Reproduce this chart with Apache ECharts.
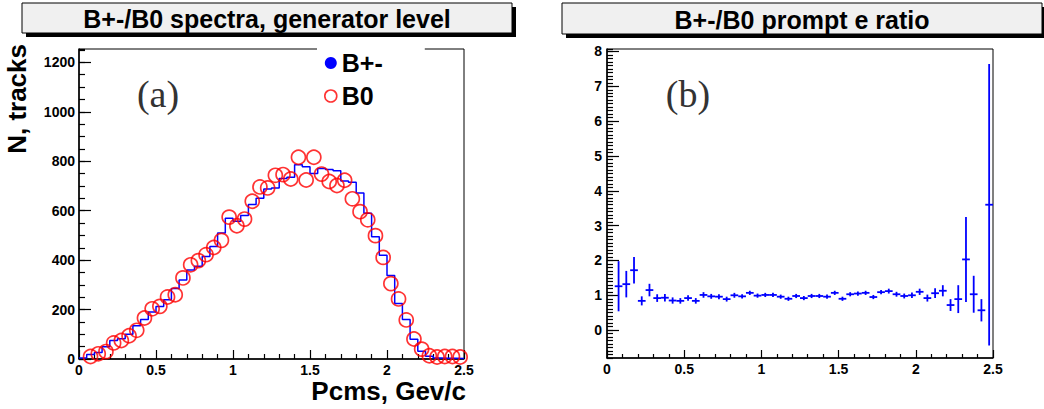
<!DOCTYPE html>
<html>
<head>
<meta charset="utf-8">
<script src="https://cdn.jsdelivr.net/npm/echarts@6/dist/echarts.min.js"></script>
<style>
  html, body { margin: 0; padding: 0; background: #fff; }
  #chart { width: 1044px; height: 409px; }
</style>
</head>
<body>
<div id="chart"></div>
<script>
// bin low edges (Pcms, GeV/c), 50 bins of 0.05
const binEdges = [0, 0.05, 0.1, 0.15, 0.2, 0.25, 0.3, 0.35, 0.4, 0.45,
  0.5, 0.55, 0.6, 0.65, 0.7, 0.75, 0.8, 0.85, 0.9, 0.95,
  1.0, 1.05, 1.1, 1.15, 1.2, 1.25, 1.3, 1.35, 1.4, 1.45,
  1.5, 1.55, 1.6, 1.65, 1.7, 1.75, 1.8, 1.85, 1.9, 1.95,
  2.0, 2.05, 2.1, 2.15, 2.2, 2.25, 2.3, 2.35, 2.4, 2.45, 2.5];
const binHalfWidth = 0.025;

// B+- spectrum (blue histogram), one value per bin
const bPlusMinus = [4, 18, 26, 50, 75, 82, 100, 135, 160, 190,
  212, 240, 285, 320, 360, 375, 415, 455, 510, 569,
  557, 580, 625, 650, 688, 692, 730, 735, 786, 778,
  750, 771, 767, 762, 720, 715, 672, 590, 495, 420,
  338, 225, 160, 80, 31, 11, 4, 3, 3, 2];

// B0 spectrum (red open circles), bins 1..49 (bin 0 empty)
const bZero = [null, 10, 21, 30, 65, 75, 94, 116, 166, 203,
  213, 251, 260, 328, 381, 398, 422, 451, 480, 574,
  539, 566, 638, 696, 692, 743, 746, 728, 816, 724,
  816, 748, 718, 702, 723, 648, 596, 563, 499, 411,
  305, 243, 158, 81, 40, 13, 8, 10, 10, 8];

// B+-/B0 ratio and its error, bins 1..49
const ratio = [null, 1.26, 1.32, 1.72, 0.84, 1.15, 0.92, 0.93, 0.85, 0.84,
  0.92, 0.84, 1.01, 0.97, 0.96, 0.89, 1.00, 0.97, 1.07, 0.99,
  1.01, 1.01, 0.96, 0.90, 0.98, 0.92, 0.98, 0.98, 0.96, 1.07,
  0.90, 1.03, 1.05, 1.07, 0.95, 1.09, 1.12, 1.03, 0.98, 1.00,
  1.10, 0.92, 1.06, 1.13, 0.72, 0.89, 2.03, 1.03, 0.57, 3.60];
const ratioErr = [null, 0.72, 0.38, 0.38, 0.13, 0.18, 0.11, 0.11, 0.09, 0.08,
  0.08, 0.08, 0.08, 0.07, 0.07, 0.07, 0.07, 0.06, 0.06, 0.06,
  0.06, 0.06, 0.06, 0.06, 0.06, 0.06, 0.06, 0.06, 0.06, 0.06,
  0.06, 0.06, 0.06, 0.06, 0.06, 0.06, 0.07, 0.07, 0.07, 0.08,
  0.09, 0.10, 0.14, 0.16, 0.17, 0.40, 1.22, 0.53, 0.32, 4.04];

// major tick labels of the ratio axis
const ratioMajorTicks = [0, 1, 2, 3, 4, 5, 6, 7, 8];

const FONT = '"Liberation Sans", Arial, Helvetica, sans-serif';
const BLUE = '#0000ff';
const RED = '#ff0000';

// step outline: each bin's value from its low edge, closed at the last edge
let stepData = bPlusMinus.map((v, i) => [binEdges[i], v]);
stepData.push([binEdges[binEdges.length - 1], bPlusMinus[bPlusMinus.length - 1]]);

let b0Data = [];
let ratioData = [];
for (let i = 0; i < bZero.length; i++) {
  let xc = binEdges[i] + binHalfWidth;
  if (bZero[i] !== null) b0Data.push([xc, bZero[i]]);
  if (ratio[i] !== null) ratioData.push([xc, ratio[i], ratioErr[i]]);
}

let chart = echarts.init(document.getElementById('chart'), null, {renderer: 'svg'});

const tickLabel = {
  color: '#000',
  fontWeight: 'bold',
  fontSize: 14,
  lineHeight: 14,
  fontFamily: FONT
};
const tickLine = {color: '#000', width: 1.2};

function xAxisFor(gridIndex, majorLen, minorLen) {
  return {
    gridIndex: gridIndex,
    type: 'value',
    min: 0,
    max: 2.5,
    interval: 0.5,
    axisLine: {show: true, onZero: false, lineStyle: {color: '#000', width: 1.5}},
    axisTick: {show: true, inside: true, length: majorLen, lineStyle: tickLine},
    minorTick: {show: true, splitNumber: 5, length: minorLen, lineStyle: tickLine},
    axisLabel: Object.assign({margin: 4, formatter: v => String(v)}, tickLabel),
    splitLine: {show: false}
  };
}

// extra left axis that only draws the short ticks
function minorAxis(gridIndex, min, max, step, len) {
  return {
    gridIndex: gridIndex,
    type: 'value',
    position: 'left',
    offset: 0,
    min: min,
    max: max,
    interval: step,
    axisLine: {show: false},
    axisTick: {show: true, inside: true, length: len, lineStyle: tickLine},
    axisLabel: {show: false},
    splitLine: {show: false}
  };
}

function errorBars(params, api) {
  let x = api.value(0), y = api.value(1), e = api.value(2);
  let c = api.coord([x, y]);
  let top = api.coord([x, y + e]);
  let bot = api.coord([x, y - e]);
  let l = api.coord([x - binHalfWidth, y]);
  let r = api.coord([x + binHalfWidth, y]);
  let style = {stroke: BLUE, lineWidth: 1.8};
  return {
    type: 'group',
    children: [
      {type: 'line', shape: {x1: c[0], y1: top[1], x2: c[0], y2: bot[1]}, style: style},
      {type: 'line', shape: {x1: l[0], y1: c[1], x2: r[0], y2: c[1]}, style: style}
    ]
  };
}

function titleBox(x, y, w, h, text) {
  return [
    {type: 'rect', shape: {x: x + 4, y: y + 4, width: w, height: h}, style: {fill: '#000'}, z: 10},
    {type: 'rect', shape: {x: x, y: y, width: w, height: h}, style: {fill: '#f0f0f0', stroke: '#000', lineWidth: 1}, z: 11},
    {type: 'text', x: x + w / 2, y: y + h / 2 + 1, z: 12,
      style: {text: text, fill: '#000', font: 'bold 25px ' + FONT, align: 'center', verticalAlign: 'middle'}}
  ];
}

let option = {
  animation: false,
  backgroundColor: '#fff',
  grid: [
    {left: 79, right: 580, top: 49, bottom: 50, show: true, borderColor: '#000', borderWidth: 1, backgroundColor: 'transparent'},
    {left: 607, right: 51, top: 49, bottom: 51, show: true, borderColor: '#000', borderWidth: 1, backgroundColor: 'transparent'}
  ],
  xAxis: [
    xAxisFor(0, 9, 5),
    xAxisFor(1, 8, 4)
  ],
  yAxis: [
    {
      gridIndex: 0,
      type: 'value',
      min: 0,
      max: 1254,
      interval: 200,
      axisLine: {show: true, lineStyle: {color: '#000', width: 1.5}},
      axisTick: {show: true, inside: true, length: 12, lineStyle: tickLine},
      axisLabel: Object.assign({margin: 4, showMaxLabel: false, formatter: v => String(v)}, tickLabel),
      splitLine: {show: false}
    },
    minorAxis(0, 0, 1254, 50, 6),
    {
      gridIndex: 1,
      type: 'value',
      min: -0.8,
      max: 8.07,
      axisLine: {show: true, lineStyle: {color: '#000', width: 1.5}},
      axisTick: {show: true, inside: true, length: 12, customValues: ratioMajorTicks, lineStyle: tickLine},
      axisLabel: Object.assign({margin: 5, customValues: ratioMajorTicks}, tickLabel),
      splitLine: {show: false}
    },
    minorAxis(1, -0.8, 8.07, 0.1, 6)
  ],
  legend: {
    orient: 'vertical',
    left: 317,
    top: 40,
    padding: [9, 42, 8, 7],
    backgroundColor: '#fff',
    itemWidth: 12,
    itemHeight: 12,
    itemGap: 5,
    selectedMode: false,
    textStyle: {color: '#000', fontSize: 25, fontWeight: 'bold', fontFamily: FONT, lineHeight: 28},
    data: [
      {name: 'B+-', icon: 'circle', itemStyle: {color: BLUE, borderWidth: 0}},
      {name: 'B0', icon: 'circle', itemStyle: {color: '#fff', borderColor: RED, borderWidth: 1.6}}
    ]
  },
  series: [
    {
      name: 'B+-',
      type: 'line',
      xAxisIndex: 0,
      yAxisIndex: 0,
      step: 'end',
      data: stepData,
      showSymbol: false,
      symbol: 'none',
      lineStyle: {color: BLUE, width: 1.5},
      itemStyle: {color: BLUE},
      z: 2
    },
    {
      name: 'B0',
      type: 'scatter',
      xAxisIndex: 0,
      yAxisIndex: 0,
      data: b0Data,
      symbol: 'circle',
      symbolSize: 14,
      itemStyle: {color: 'rgba(255,255,255,0)', borderColor: RED, borderWidth: 1.7},
      z: 3
    },
    {
      name: 'ratio',
      type: 'custom',
      xAxisIndex: 1,
      yAxisIndex: 2,
      data: ratioData,
      renderItem: errorBars,
      clip: true
    }
  ],
  graphic: [].concat(
    titleBox(22, 3, 490, 30, 'B+-/B0 spectra, generator level'),
    titleBox(562, 3, 480, 31, 'B+-/B0 prompt e ratio'),
    [
      {type: 'text', x: 158, y: 94, z: 12,
        style: {text: '(a)', fill: '#333', font: '38px "Liberation Serif", "Times New Roman", serif', align: 'center', verticalAlign: 'middle'}},
      {type: 'text', x: 688, y: 94, z: 12,
        style: {text: '(b)', fill: '#333', font: '38px "Liberation Serif", "Times New Roman", serif', align: 'center', verticalAlign: 'middle'}},
      {type: 'text', x: 466, y: 404, z: 12,
        style: {text: 'Pcms, Gev/c', fill: '#000', font: 'bold 26px ' + FONT, align: 'right', verticalAlign: 'bottom'}},
      {type: 'text', x: 17, y: 44, rotation: Math.PI / 2, z: 12,
        style: {text: 'N, tracks', fill: '#000', font: 'bold 26px ' + FONT, align: 'right', verticalAlign: 'middle'}}
    ]
  )
};

chart.setOption(option);
</script>
</body>
</html>
